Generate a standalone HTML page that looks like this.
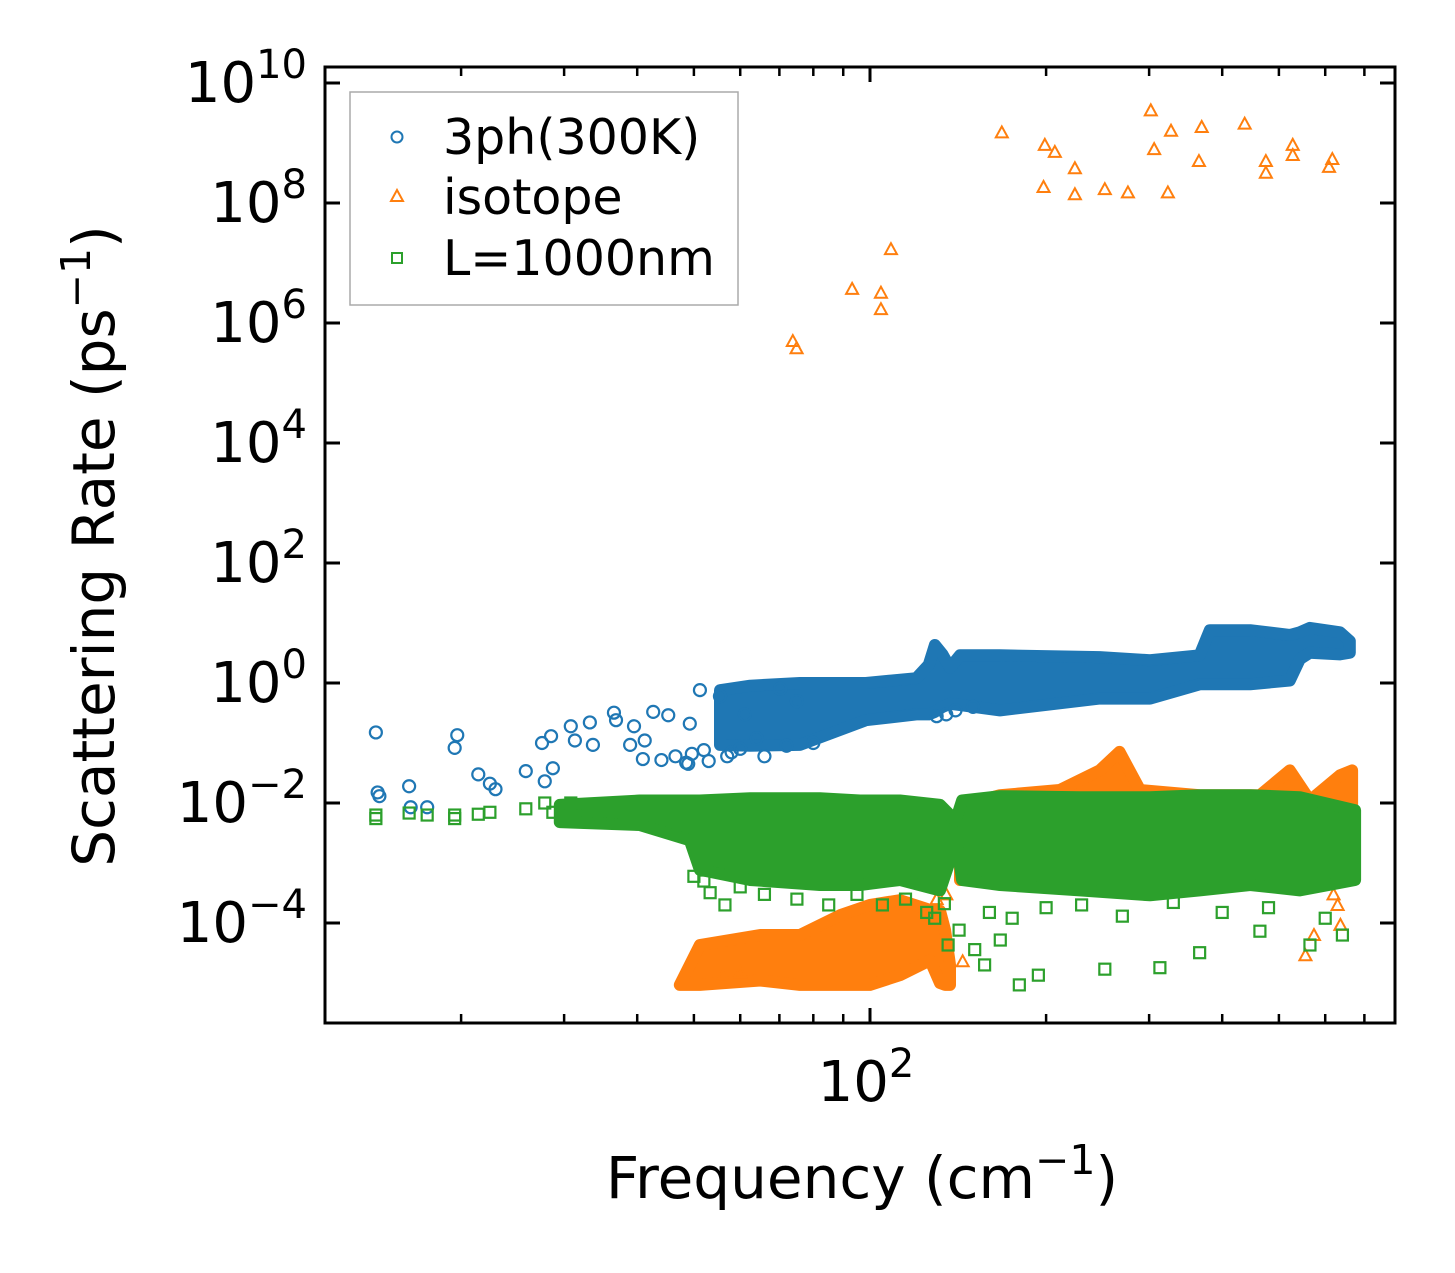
<!DOCTYPE html>
<html><head><meta charset="utf-8"><style>
body{margin:0;background:#fff}
svg{display:block;font-family:"DejaVu Sans","Liberation Sans",sans-serif}
</style></head><body>
<svg id="chart" width="1455" height="1273" viewBox="0 0 1455 1273" xmlns="http://www.w3.org/2000/svg">
<rect width="1455" height="1273" fill="#fff"/>
<g id="plot"></g>
<g id="axes"></g>
<text x="862" y="1198" font-size="58" text-anchor="middle">Frequency (cm<tspan dy="-24" font-size="41">−1</tspan><tspan dy="24">)</tspan></text>
<text transform="translate(114,546) rotate(-90)" font-size="58" text-anchor="middle">Scattering Rate (ps<tspan dy="-24" font-size="41">−1</tspan><tspan dy="24">)</tspan></text>
<g>
<rect x="350" y="92" width="388" height="213" fill="#fff" stroke="#aaa" stroke-width="1.5"/>
<g><circle cx="397" cy="137" r="5.5" fill="none" stroke="#1f77b4" stroke-width="2"/><text x="443" y="154" font-size="49">3ph(300K)</text></g>
<g><polygon points="397,190 403,201 391,201" fill="none" stroke="#ff7f0e" stroke-width="2"/><text x="443" y="214" font-size="49">isotope</text></g>
<g><rect x="392" y="253" width="10" height="10" fill="none" stroke="#2ca02c" stroke-width="2"/><text x="443" y="275" font-size="49">L=1000nm</text></g>
</g>
</svg>
<script>
const X0=870, XDEC=585, Y0=683, YDEC=60;
function sx(f){return X0+XDEC*Math.log10(f/100);}
function sy(r){return Y0-YDEC*Math.log10(r);}

// ---- 3ph (blue) sparse ----
const blueFreq=[14.3,14.4,14.5,16.3,16.4,17.5,19.5,19.7,21.4,22.4,22.9,25.8,27.5,27.8,28.5,28.7,30.8,31.3,33.2,33.6,36.5,36.8,38.9,39.5,40.9,41.2,42.6,44,45.2,46.5,48.5,48.9,49.2,49.6,51.2,52,55.4,58,61.1,64,70.2,75,53,57,60,66,72,80,130,135,140,150];
const blueRate=[0.15,0.015,0.013,0.019,0.0085,0.0085,0.083,0.135,0.030,0.021,0.017,0.034,0.10,0.023,0.13,0.038,0.19,0.11,0.22,0.093,0.32,0.24,0.093,0.19,0.054,0.11,0.33,0.052,0.29,0.06,0.047,0.045,0.21,0.066,0.76,0.076,0.6,0.07,0.3,0.12,0.8,0.5,0.05,0.06,0.08,0.06,0.09,0.1,0.28,0.3,0.35,0.4];
const blueBandFreq=[55.4,62.4,75.9,98.4,120,126,129.1,133,137,142.5,166.8,247,301,366,381,446.6,522,543,565,636,661];
const blueBandLow=[0.093,0.09,0.093,0.24,0.3,0.3,0.33,0.4,0.45,0.43,0.35,0.55,0.55,0.95,0.95,0.95,1.1,2.5,3.2,3.0,3.2];
const blueBandHigh=[0.76,0.9,1.0,1.0,1.2,2.0,4.3,3.0,1.8,2.9,2.9,2.7,2.4,2.9,7.6,7.6,6.3,7.0,8.3,7.0,5.0];

// ---- isotope (orange) sparse ----
const orangeFreq=[73.8,74.9,93.2,104.4,104.4,108.6,168,199,207,198,224,224,252,276,302,306,323,327,365,369,437,475,475,528,528,609,617,56,60,144,555,574,637,130,132,135,620,630];
const orangeRate=[5e5,3.8e5,3.7e6,3.2e6,1.7e6,1.7e7,1.5e9,9.3e8,7.1e8,1.85e8,3.8e8,1.4e8,1.7e8,1.5e8,3.5e9,7.9e8,1.5e8,1.6e9,5e8,1.85e9,2.1e9,5e8,3.2e8,6.3e8,9.3e8,4e8,5.4e8,1.3e-5,1.5e-5,2.3e-5,2.9e-5,6.3e-5,9.3e-5,2.5e-4,1.5e-4,3e-4,3e-4,2e-4];
const orangeLowBandFreq=[47.3,51.2,64.9,75.9,88.9,100,112.5,126.7,131.7,134.4,137];
const orangeLowBandLow=[9.3e-6,9.3e-6,1.1e-5,9.3e-6,9.3e-6,9.3e-6,1.35e-5,2.4e-5,1.0e-5,9.3e-6,9.3e-6];
const orangeLowBandHigh=[9.3e-6,4.3e-5,6.3e-5,6.3e-5,1.35e-4,2.0e-4,2.4e-4,1.65e-4,1.6e-4,7.6e-5,2.0e-5];
const orangeHiBandFreq=[142.5,154.2,166.8,211,247,267,289.4,366,464,522,565,636,667];
const orangeHiBandLow=[5.2e-4,1.1e-3,1.1e-3,1.1e-3,1.65e-3,2.4e-3,1.65e-3,1.65e-3,1.65e-3,1.65e-3,1.65e-3,2.4e-3,1.65e-3];
const orangeHiBandHigh=[6.3e-3,1.1e-2,1.35e-2,1.65e-2,3.5e-2,7.1e-2,1.65e-2,1.35e-2,1.35e-2,3.5e-2,1.1e-2,2.9e-2,3.5e-2];

// ---- boundary (green) sparse ----
const greenFreq=[14.3,14.3,16.3,17.5,19.5,19.5,21.4,22.4,25.8,27.8,28.7,30.8,33,36,53.3,56.5,134,129,136,142,151,157,167,180,194,252,313,366,464,565,642,50,52,55,60,66,75,85,95,105,115,125,160,175,200,230,270,330,400,480,600];
const greenRate=[5.5e-3,6.3e-3,6.8e-3,6.3e-3,6.3e-3,5.5e-3,6.5e-3,7e-3,8e-3,1.0e-2,7e-3,1.0e-2,6.5e-3,6e-3,3.2e-4,2e-4,2.1e-4,1.2e-4,4.3e-5,7.6e-5,3.6e-5,2e-5,5.2e-5,9.3e-6,1.35e-5,1.7e-5,1.8e-5,3.2e-5,7.3e-5,4.3e-5,6.3e-5,6e-4,5e-4,1e-3,4e-4,3e-4,2.5e-4,2e-4,3e-4,2e-4,2.5e-4,1.5e-4,1.5e-4,1.2e-4,1.8e-4,2e-4,1.3e-4,2.2e-4,1.5e-4,1.8e-4,1.2e-4];
const greenBandFreq=[29.5,40.4,49.2,51.2,62.4,82.1,96.1,112.5,131.7,137,140,143.7,166.8,228.5,301,366,446.6,543,675];
const greenBandLow=[4.8e-3,4.3e-3,2.4e-3,7.7e-4,5.2e-4,4.3e-4,4.3e-4,5.2e-4,3.5e-4,1.1e-3,3.0e-3,5.2e-4,4.3e-4,3.5e-4,2.9e-4,3.5e-4,4.3e-4,3.5e-4,5.2e-4];
const greenBandHigh=[9.3e-3,1.1e-2,1.1e-2,1.1e-2,1.2e-2,1.2e-2,1.1e-2,1.1e-2,9.3e-3,6.3e-3,5e-3,1.1e-2,1.3e-2,1.25e-2,1.25e-2,1.35e-2,1.35e-2,1.25e-2,7.6e-3];

const NS='http://www.w3.org/2000/svg';
const plot=document.getElementById('plot');
const axes=document.getElementById('axes');
function mk(tag,attrs,parent){const e=document.createElementNS(NS,tag);for(const k in attrs)e.setAttribute(k,attrs[k]);parent.appendChild(e);return e;}

function band(freq,low,high,color,name){
  let pts=[];
  for(let i=0;i<freq.length;i++)pts.push(sx(freq[i]).toFixed(1)+','+sy(high[i]).toFixed(1));
  for(let i=freq.length-1;i>=0;i--)pts.push(sx(freq[i]).toFixed(1)+','+sy(low[i]).toFixed(1));
  const p=mk('polygon',{points:pts.join(' '),fill:color,stroke:color,'stroke-width':12,'stroke-linejoin':'round'},plot);
  
  
}
function circles(freq,rate,color,name){
  for(let i=0;i<freq.length;i++){
    const c=mk('circle',{cx:sx(freq[i]),cy:sy(rate[i]),r:6,fill:'none',stroke:color,'stroke-width':2.2},plot);
    
    
  }
}
function tris(freq,rate,color,name){
  for(let i=0;i<freq.length;i++){
    const x=sx(freq[i]),y=sy(rate[i]);
    const t=mk('polygon',{points:`${x},${y-6} ${x+6},${y+5} ${x-6},${y+5}`,fill:'none',stroke:color,'stroke-width':2},plot);
    
    
  }
}
function squares(freq,rate,color,name){
  for(let i=0;i<freq.length;i++){
    const x=sx(freq[i]),y=sy(rate[i]);
    const s=mk('rect',{x:x-5.5,y:y-5.5,width:11,height:11,fill:'none',stroke:color,'stroke-width':2.2},plot);
    
    
  }
}
band(blueBandFreq,blueBandLow,blueBandHigh,'#1f77b4','3ph-dense-band');
circles(blueFreq,blueRate,'#1f77b4','3ph-point');
band(orangeLowBandFreq,orangeLowBandLow,orangeLowBandHigh,'#ff7f0e','isotope-low-band');
band(orangeHiBandFreq,orangeHiBandLow,orangeHiBandHigh,'#ff7f0e','isotope-mid-band');
tris(orangeFreq,orangeRate,'#ff7f0e','isotope-point');
band(greenBandFreq,greenBandLow,greenBandHigh,'#2ca02c','boundary-dense-band');
squares(greenFreq,greenRate,'#2ca02c','boundary-point');

const L=325,R=1395,T=67,B=1023;
const fr=mk('rect',{x:L,y:T,width:R-L,height:B-T,fill:'none',stroke:'#000','stroke-width':3},axes);


const yTickExp=[-4,-2,0,2,4,6,8,10];
yTickExp.forEach(e=>{
  const y=sy(Math.pow(10,e));
  mk('line',{x1:L,x2:L+15,y1:y,y2:y,stroke:'#000','stroke-width':3},axes);
  mk('line',{x1:R,x2:R-15,y1:y,y2:y,stroke:'#000','stroke-width':3},axes);
  const t=mk('text',{x:L-18,y:y+19,'font-size':56,'text-anchor':'end'},axes);
  
  
  const exp=(e<0?'−':'')+Math.abs(e);
  t.innerHTML='10<tspan dy="-24" font-size="40">'+exp+'</tspan>';
});
const xMinor=[20,30,40,50,60,70,80,90,200,300,400,500,600,700];
xMinor.forEach(f=>{
  const x=sx(f);
  mk('line',{x1:x,x2:x,y1:B,y2:B-9,stroke:'#000','stroke-width':2.5},axes);
  mk('line',{x1:x,x2:x,y1:T,y2:T+9,stroke:'#000','stroke-width':2.5},axes);
});
const xMajor=[100];
xMajor.forEach(f=>{
  const x=sx(f);
  mk('line',{x1:x,x2:x,y1:B,y2:B-15,stroke:'#000','stroke-width':3},axes);
  mk('line',{x1:x,x2:x,y1:T,y2:T+15,stroke:'#000','stroke-width':3},axes);
  const t=mk('text',{x:x-4,y:B+78,'font-size':56,'text-anchor':'middle'},axes);
  
  
  t.innerHTML='10<tspan dy="-24" font-size="40">2</tspan>';
});
</script>
</body></html>
